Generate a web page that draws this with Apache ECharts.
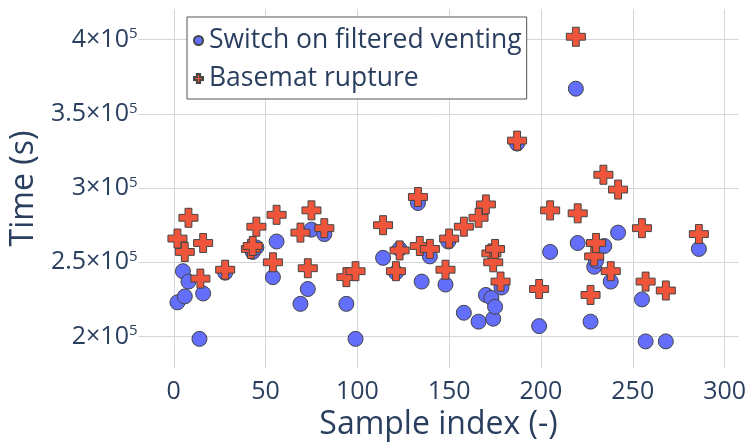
<!DOCTYPE html>
<html>
<head>
<meta charset="utf-8">
<script src="https://cdn.jsdelivr.net/npm/echarts@6/dist/echarts.min.js"></script>
<style>html,body{margin:0;padding:0;background:#fff}#c{width:749px;height:446px}</style>
</head>
<body>
<div id="c"></div>
<script>
// Sample index and time (s) for each event
const ventX = [2,5,6,8,14,16,28,43,45,54,56,69,73,75,82,94,99,114,121,123,133,135,139.5,148,149.5,158,166,170,173,174,175,178.5,187,199,205,219,220,227,229,230,234.5,238,242,255,257,268,286];
const ventY = [223000,244000,227000,237000,198400,229000,243000,257000,260000,240000,264000,222000,232000,272000,269000,222000,198400,253000,243000,259000,290000,237000,254000,235000,264000,216000,210000,228000,226000,212000,220000,233000,330000,207000,257000,367000,263000,210000,247000,251000,261000,237000,270000,225000,196700,196700,259000];
const ruptX = [2,6,8,14.5,16,28,42,43,45,54,56,69,73,75,82,94,99,114,121,123,133,134,139.5,148,150,158,166,170,173,174,175,178,187,199,205,219,220,227,229,230,234,238,242,255,257,268,286];
const ruptY = [266000,257000,280000,239000,263000,245000,259000,261000,274000,250000,282000,270000,246000,285000,273000,240000,244000,275000,244000,258000,294000,261000,259000,245000,266000,274000,280000,289000,256000,250000,259000,237000,332000,232000,285000,402000,283000,228000,254000,263000,309000,244000,299000,273000,237000,231000,269000];
const seriesNames = ['Switch on filtered venting', 'Basemat rupture'];
const xTicks = [0,50,100,150,200,250,300];
const yTicks = [200000,250000,300000,350000,400000];
const yTickMantissa = ['2','2.5','3','3.5','4'];
const yTickExponent = '5';

const FONT = '"Open Sans", "Noto Sans", sans-serif';
const TXT = '#2a3f5f';
const GRID = '#d3d6dc';
const CLR = 'rgba(0,0,0,0)';
const crossPath = 'path://M32,0H68V32H100V68H68V100H32V68H0V32H32Z';

const chart = echarts.init(document.getElementById('c'), null, {renderer: 'canvas'});
chart.setOption({
  animation: false,
  backgroundColor: '#fff',
  grid: {left: 138, right: 10, top: 9, bottom: 74, containLabel: false},
  legend: {
    orient: 'vertical', left: 187, top: 17,
    padding: [10, 5, 7, 6], itemGap: 11, itemWidth: 9, itemHeight: 9,
    borderColor: '#555', borderWidth: 1, backgroundColor: '#fff',
    textStyle: {fontFamily: FONT, fontSize: 26.5, color: TXT, padding: [0, 0, 0, 1]},
    data: seriesNames
  },
  xAxis: {
    type: 'value', min: -19.2, max: 307.6, splitNumber: 5,
    name: 'Sample index (-)', nameLocation: 'middle', nameGap: 40,
    nameTextStyle: {fontFamily: FONT, fontSize: 32, color: TXT},
    axisLine: {show: false}, axisTick: {show: false},
    axisLabel: {fontFamily: FONT, fontSize: 25, color: TXT, margin: 11,
      formatter: v => xTicks.indexOf(v) >= 0 ? String(v) : ''},
    splitLine: {show: true, lineStyle: {color: [CLR, GRID, GRID, GRID, GRID, GRID, GRID, GRID, CLR], width: 1}}
  },
  yAxis: {
    type: 'value', min: 178700, max: 420700, splitNumber: 5,
    name: 'Time (s)', nameLocation: 'middle', nameGap: 92,
    nameTextStyle: {fontFamily: FONT, fontSize: 32, color: TXT},
    axisLine: {show: false}, axisTick: {show: false},
    axisLabel: {fontFamily: FONT, color: TXT, margin: 1,
      formatter: v => {
        const i = yTicks.indexOf(v);
        return i < 0 ? '' : '{m|' + yTickMantissa[i] + '×10}{e|' + yTickExponent + '}';
      },
      rich: {
        m: {fontFamily: FONT, fontSize: 25, color: TXT, lineHeight: 26},
        e: {fontFamily: FONT, fontSize: 15, color: TXT, verticalAlign: 'top', lineHeight: 26}
      }
    },
    splitLine: {show: true, lineStyle: {color: [CLR, GRID, GRID, GRID, GRID, GRID, CLR], width: 1}}
  },
  series: [
    {
      name: seriesNames[0], type: 'scatter', symbol: 'circle', symbolSize: 15,
      itemStyle: {color: '#636efa', borderColor: '#444', borderWidth: 1, opacity: 1},
      data: ventX.map((x, i) => [x, ventY[i]])
    },
    {
      name: seriesNames[1], type: 'scatter', symbol: crossPath, symbolSize: 19,
      itemStyle: {color: '#ef553b', borderColor: '#444', borderWidth: 1, opacity: 1},
      data: ruptX.map((x, i) => [x, ruptY[i]])
    }
  ]
});
</script>
</body>
</html>
